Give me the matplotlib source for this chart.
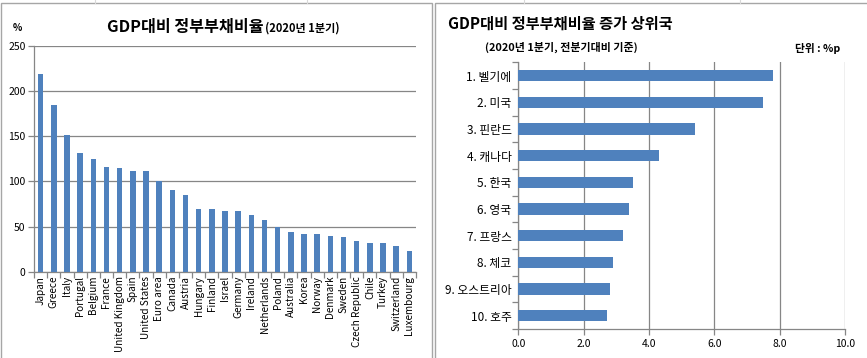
import matplotlib
matplotlib.use("Agg")
import matplotlib.pyplot as plt
import numpy as np
from matplotlib.patches import Rectangle
from matplotlib.lines import Line2D

plt.rcParams['font.family'] = ['Noto Sans CJK KR', 'DejaVu Sans']

# ---- data ----
countries = ["Japan", "Greece", "Italy", "Portugal", "Belgium", "France",
             "United Kingdom", "Spain", "United States", "Euro area", "Canada",
             "Austria", "Hungary", "Finland", "Israel", "Germany", "Ireland",
             "Netherlands", "Poland", "Australia", "Korea", "Norway", "Denmark",
             "Sweden", "Czech Republic", "Chile", "Turkey", "Switzerland",
             "Luxembourg"]
debt_ratio = [219, 185, 151, 132, 125, 116, 115, 112, 111, 100, 90, 85, 70, 69,
              67, 67, 63, 57, 50, 44, 42, 42, 40, 38, 34, 32, 32, 29, 23]

top_labels = ["1. 벨기에", "2. 미국", "3. 핀란드", "4. 캐나다", "5. 한국",
              "6. 영국", "7. 프랑스", "8. 체코", "9. 오스트리아", "10. 호주"]
top_increase = [7.8, 7.5, 5.4, 4.3, 3.5, 3.4, 3.2, 2.9, 2.8, 2.7]

left_yticks = [0, 50, 100, 150, 200, 250]
right_xticks = [0, 2, 4, 6, 8, 10]

BLUE = "#4F81BD"
GRID = "#868686"

W, H = 867, 358
fig = plt.figure(figsize=(W / 100, H / 100), dpi=100)
fig.patch.set_facecolor("white")

def fx(px):
    return px / W

def fy(py):
    return 1 - py / H

# panel borders
fig.add_artist(Rectangle((fx(1), fy(380)), fx(431), 377 / H, transform=fig.transFigure,
                         fill=False, edgecolor="#A6A6A6", lw=1.0))
fig.add_artist(Rectangle((fx(435), fy(380)), fx(450), 377 / H, transform=fig.transFigure,
                         fill=False, edgecolor="#A6A6A6", lw=1.0))
# faint sheet grid at top
for xv in [95, 307, 524, 740]:
    fig.add_artist(Line2D([fx(xv), fx(xv)], [fy(0), fy(3)], transform=fig.transFigure,
                          color="#D9D9D9", lw=0.8))

# ---- left chart ----
axL = fig.add_axes([fx(34), fy(271.7), fx(416 - 34), (271.7 - 46) / H])
x = np.arange(len(countries))
axL.bar(x, debt_ratio, width=0.42, color=BLUE, zorder=3)
axL.set_xlim(-0.5, len(countries) - 0.5)
axL.set_ylim(0, 250)
axL.set_yticks(left_yticks)
axL.set_yticklabels([str(v) for v in left_yticks], fontsize=7.5)
axL.yaxis.grid(True, color=GRID, lw=0.9, zorder=0)
axL.set_xticks(x)
axL.set_xticklabels(countries, rotation=90, fontsize=7.2)
axL.tick_params(axis='x', which='major', length=0, pad=3)
axL.set_xticks(np.arange(-0.5, len(countries), 1.0), minor=True)
axL.tick_params(axis='x', which='minor', length=4, color=GRID, width=0.9)
axL.tick_params(axis='y', length=4, color=GRID, width=0.9, pad=2)
for s in ["top", "right"]:
    axL.spines[s].set_visible(False)
for s in ["left", "bottom"]:
    axL.spines[s].set_color(GRID)
    axL.spines[s].set_linewidth(0.9)

t1 = fig.text(fx(107), fy(27), "GDP대비 정부부채비율", fontsize=11.6, fontweight="bold",
              ha="left", va="center")
renderer = fig.canvas.get_renderer()
bb = t1.get_window_extent(renderer=renderer)
fig.text(bb.x1 / W + fx(1), fy(28), "(2020년 1분기)", fontsize=8, fontweight="bold",
         ha="left", va="center")
fig.text(fx(17), fy(28), "%", fontsize=7, fontweight="bold", ha="center", va="center")

# ---- right chart ----
axR = fig.add_axes([fx(518.3), fy(329), fx(845 - 518.3), (329 - 62.3) / H])
y = np.arange(len(top_labels))
axR.barh(y, top_increase, height=0.42, color=BLUE, zorder=3)
axR.set_ylim(len(top_labels) - 0.5, -0.5)
axR.set_xlim(0, 10)
axR.set_xticks(right_xticks)
axR.set_xticklabels([f"{v:.1f}" for v in right_xticks], fontsize=7.5)
axR.xaxis.grid(True, color=GRID, lw=0.9, zorder=0)
axR.set_yticks(y)
axR.set_yticklabels([l + " " for l in top_labels], fontsize=8.5)
axR.tick_params(axis='y', which='major', length=0, pad=3)
axR.set_yticks(np.arange(-0.5, len(top_labels), 1.0), minor=True)
axR.tick_params(axis='y', which='minor', length=4, color=GRID, width=0.9)
axR.tick_params(axis='x', length=4, color=GRID, width=0.9, pad=3)
for s in ["top", "right"]:
    axR.spines[s].set_visible(False)
for s in ["left", "bottom"]:
    axR.spines[s].set_color(GRID)
    axR.spines[s].set_linewidth(0.9)

fig.text(fx(448), fy(24), "GDP대비 정부부채비율 증가 상위국", fontsize=11,
         fontweight="bold", ha="left", va="center")
fig.text(fx(485), fy(47), "(2020년 1분기, 전분기대비 기준)", fontsize=7.9,
         fontweight="bold", ha="left", va="center")
fig.text(fx(840), fy(48), "단위 : %p", fontsize=7.7, fontweight="bold",
         ha="right", va="center")

fig.savefig("out.png", dpi=100, facecolor="white")
